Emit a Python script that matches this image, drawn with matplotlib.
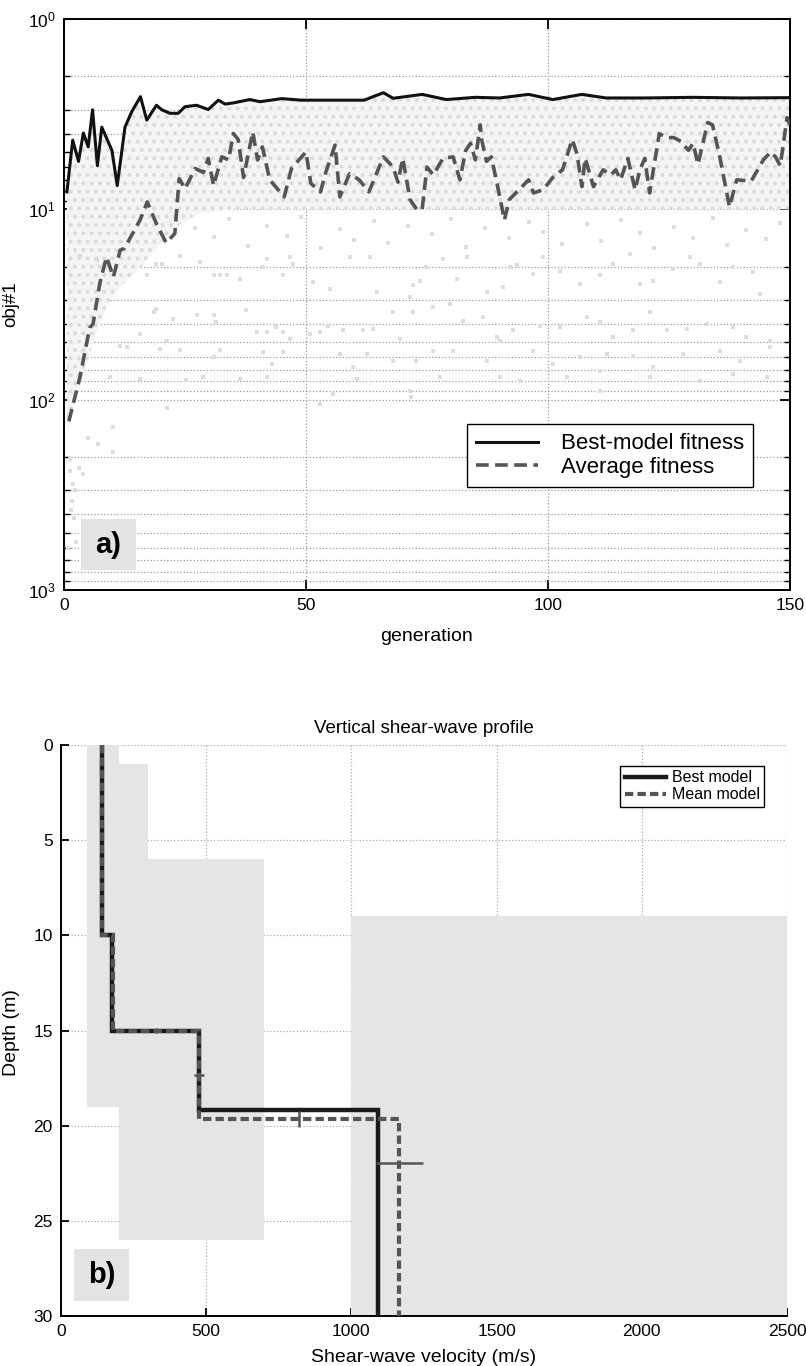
import numpy as np
import matplotlib
matplotlib.use('Agg')
import matplotlib.pyplot as plt
from matplotlib.patches import Rectangle

plt.rcParams['font.family'] = ['Liberation Sans', 'DejaVu Sans']
plt.rcParams['mathtext.fontset'] = 'custom'
plt.rcParams['mathtext.rm'] = 'Liberation Sans'
plt.rcParams['mathtext.it'] = 'Liberation Sans:italic'
plt.rcParams['hatch.linewidth'] = 1.6

# ---- panel a) : fitness vs generation ----
best_gen = [0.6, 1.8, 3.0, 4.0, 5.0, 5.9, 6.9, 7.8, 9.9, 11.0, 12.6, 14.0, 15.8, 17.1,
            19.1, 20.2, 21.9, 23.6, 25, 27.4, 29.8, 31.9, 33.3, 35, 38.4, 40.5, 45, 49,
            55, 62, 66, 68, 74, 79, 85, 90, 96, 101, 107, 112, 120, 130, 140, 150]
best_fit = [8.1, 4.33, 5.6, 3.97, 4.7, 3.0, 5.9, 3.7, 4.9, 7.5, 3.7, 3.07, 2.56, 3.4,
            2.84, 3.0, 3.13, 3.13, 2.89, 2.84, 2.99, 2.67, 2.8, 2.76, 2.65, 2.72, 2.62, 2.67,
            2.67, 2.67, 2.44, 2.61, 2.49, 2.65, 2.58, 2.6, 2.49, 2.65, 2.49, 2.6, 2.6, 2.58, 2.6, 2.59]

avg_gen = [1, 3.3, 5.3, 6, 7.4, 7.8, 8.8, 10.2, 11.6, 12.5, 15.7, 17.2, 19.1, 21.1, 22.9,
           23.8, 25, 27.1, 28.8, 29.8, 30.9, 32.6, 34, 35, 36, 37.1, 39, 40, 41, 42.5,
           45.5, 47, 48, 50, 51, 53, 54, 56, 57, 59, 61, 63, 66, 68, 69, 70, 71.5, 73, 74,
           75, 76.3, 78.3, 80.4, 81.8, 83, 84, 85, 86, 86.3, 87.3, 88.3, 89.7, 91, 92, 94,
           96, 97, 99, 101, 103, 105, 106, 107, 107.7, 109.4, 111.4, 113, 114, 115, 116.5,
           118, 119, 120, 121, 123, 124.5, 126, 127.5, 129, 130, 131, 133, 134, 135.5,
           137.5, 139, 142, 144.5, 146, 147, 148, 149.4, 150]
avg_fit = [130, 76, 42, 40, 24.5, 22.2, 17.8, 22.7, 16.4, 16, 11.4, 9.15, 11.9, 15.0, 13.4,
           6.9, 7.8, 6.1, 6.4, 5.4, 7.5, 5.3, 5.5, 4.0, 4.3, 6.8, 3.92, 5.5, 4.7, 7.0,
           8.6, 6.1, 5.7, 5.0, 7.3, 8.1, 6.5, 4.6, 8.6, 6.5, 7.0, 8.1, 5.3, 6.0, 7.2, 5.4, 8.9, 10.1, 10.0,
           6.0, 6.6, 5.4, 5.3, 7.0, 4.9, 4.5, 5.5, 3.6, 4.3, 5.6, 5.3, 7.8, 11.4, 8.9, 7.9,
           7.0, 8.2, 7.9, 6.8, 6.2, 4.3, 5.1, 7.6, 5.4, 7.6, 6.2, 6.6, 6.2, 7.0, 5.4,
           7.9, 6.2, 5.4, 8.2, 4.0, 4.2, 4.2, 4.4, 4.9, 4.5, 5.8, 3.5, 3.6, 5.3,
           9.7, 7.0, 7.1, 5.5, 5.0, 5.3, 5.9, 3.3, 3.6]

# lower edge of the dense population cloud
cloud_gen = [0.6, 3, 6, 9, 12, 16, 20, 24, 28, 35, 150]
cloud_low = [150, 90, 50, 32, 25, 20, 15, 12, 10.5, 10, 10]

# sparse population members below the cloud
pop_gen = [3.3, 6.8, 19.1, 17.1, 20.2, 24.0, 28.1, 30.9, 32.2, 33.6, 36.4, 41.2, 41.9, 45.3,
           46.7, 47.4, 51.5, 55.0, 59.1, 63.2, 64.6, 68.0, 72.2, 18.5, 19.1, 22.6, 27.4, 30.9,
           31.5, 37.7, 39.8, 41.9, 43.9, 45.3, 46.7, 50.8, 52.9, 54.6, 57.7, 61.8, 63.9, 69.4,
           11.6, 13.0, 15.7, 19.8, 21.2, 24.0, 30.9, 32.2, 41.2, 42.9, 45.3, 57.0, 59.8, 62.6,
           68.0, 9.5, 15.7, 25.3, 28.8, 36.4, 41.9, 52.9, 55.6, 60.5, 21.2, 10.2, 7.1, 10.2,
           1.2, 1.2, 4.0, 1.6, 1.9,
           71.5, 73.5, 74.9, 78.4, 81.1, 83.2, 87.3, 90.8, 92.1, 93.5, 97.0, 99.0, 102.5, 106.6,
           110.7, 113.5, 116.9, 119.0, 121.8, 125.9, 129.3, 131.4, 135.5, 138.3, 142.4, 143.8,
           72.2, 76.3, 79.7, 82.5, 86.6, 89.4, 92.8, 98.3, 102.5, 108.0, 110.7, 113.5, 117.6,
           121.1, 124.5, 128.7, 132.8, 138.3, 141.0, 145.9, 72.8, 76.3, 80.4, 87.3, 90.1, 97.0,
           101.1, 106.6, 112.1, 117.6, 121.8, 128.0, 135.5, 139.7, 145.9, 71.5, 77.7, 90.1,
           94.2, 103.9, 110.7, 121.1, 131.4, 138.3, 145.2, 71.8, 110.7,
           27, 31, 34, 38, 42, 46, 49, 53, 57, 60, 64, 67, 71, 76, 80, 83, 87, 92, 96, 99,
           103, 108, 111, 115, 119, 122, 126, 130, 134, 137, 141, 145, 148,
           2.0, 2.5, 1.4, 3.0, 0.8, 5.0, 2.2]
pop_fit = [17.5, 18.5, 19.3, 22.2, 19.3, 17.5, 18.9, 22.2, 22.2, 22.2, 23.2, 20.1, 18.2, 22.2,
           17.8, 19.3, 24.1, 26.2, 17.8, 17.8, 27.2, 34.7, 25.1, 34.7, 33.3, 37.6, 36.1, 36.1,
           39.2, 34.0, 44.2, 44.2, 41.6, 44.2, 48.0, 45.1, 44.2, 40.8, 43.3, 43.3, 42.5, 48.0,
           52, 53, 45, 54, 49, 55, 60, 55, 56, 65, 56, 57.5, 67.6, 57.5,
           62.3, 76, 78, 79, 76, 78, 76, 105, 93, 78, 110, 140, 170, 189,
           205, 237, 246, 340, 277,
           28.9, 23.7, 20.1, 18.2, 23.2, 17.8, 27.2, 25.6, 20.1, 19.7, 21.8, 17.8, 21.0, 24.6,
           22.2, 19.3, 17.1, 24.6, 23.7, 20.5, 17.8, 19.3, 24.1, 20.1, 21.4, 27.8,
           34.7, 32.6, 31.4, 38.4, 36.9, 47.0, 43.3, 40.8, 41.6, 36.9, 39.2, 47.0, 43.3,
           34.7, 43.3, 42.5, 40.0, 41.6, 47.0, 48.9, 62.4, 55.2, 55.2, 62.4, 48.9, 55.2,
           64.9, 59.8, 57.5, 58.7, 67.6, 57.5, 55.2, 62.4, 53.1, 89.7, 76.3, 76.3,
           79.4, 76.3, 70.3, 76.3, 79.4, 73.3, 76.3, 97, 89.7,
           12.5, 14, 11.2, 15.5, 12.3, 13.8, 11, 16, 12.7, 14.5, 11.5, 15, 12.2, 13.5, 11.3, 15.8,
           12.6, 14.2, 11.6, 13.1, 15.2, 12, 14.6, 11.4, 13.3, 15.9, 12.4, 14.1, 11.1, 15.4,
           12.9, 14.4, 11.8,
           420, 560, 380, 230, 600, 160, 300]

# ---- panel b) : shear-wave profile ----
best_vs = [140, 176, 476, 1092]
best_edges = [0, 10, 15, 19.2, 30]
mean_vs = [140, 178, 476, 1165]
mean_edges = [0, 10, 15, 19.65, 30]
# search bounds: (vs_min, vs_max, depth_top, depth_bottom)
bound_vmin = [90, 90, 200, 1000]
bound_vmax = [200, 300, 700, 2500]
bound_ztop = [0, 1, 6, 9]
bound_zbot = [19, 6, 26, 30]
# uncertainty crosses on the mean model
err_v = [476, 818, 1165, 327]
err_z = [17.35, 19.65, 21.95, 15.0]
err_sv = [17, 0, 80, 0]
err_sz = [0, 0.4, 0, 0.15]

fig = plt.figure(figsize=(8.06, 13.66), dpi=100)

# ---------------- a) ----------------
ax1 = fig.add_axes([0.0794, 0.5681, 0.9007, 0.418])
ax1.set_yscale('log')
ax1.fill(np.r_[best_gen, cloud_gen[::-1]], np.r_[best_fit, cloud_low[::-1]],
         facecolor='#f4f4f4', edgecolor='#dadada', hatch='..', linewidth=0, zorder=1)
ax1.scatter(pop_gen, pop_fit, s=6, marker='s', color='#dddddd', linewidths=0, zorder=1)
ax1.plot(best_gen, best_fit, color='#111111', lw=2.2, label='Best-model fitness', zorder=3)
ax1.plot(avg_gen, avg_fit, color='#555555', lw=2.6, ls=(0, (3.5, 1.8)),
         label='Average fitness', zorder=3)
ax1.set_xlim(0, 150)
ax1.set_ylim(1000, 1)
ax1.set_xticks([0, 50, 100, 150])
ax1.grid(True, which='major', ls=':', color='#999999', lw=0.9)
ax1.grid(True, which='minor', axis='y', ls=':', color='#999999', lw=0.9)
ax1.set_axisbelow(True)
ax1.tick_params(which='both', direction='in', top=True, right=True, labelsize=12.5, pad=6)
ax1.tick_params(which='major', length=7, width=1.3)
ax1.tick_params(which='minor', length=4, width=1.0)
for s in ax1.spines.values():
    s.set_linewidth(1.4)
ax1.set_xlabel('generation', fontsize=14)
ax1.set_ylabel('obj#1', fontsize=13.5)
ax1.xaxis.set_label_coords(0.5, -0.067)
ax1.yaxis.set_label_coords(-0.061, 0.5)
leg1 = ax1.legend(loc='lower right', bbox_to_anchor=(0.964, 0.161), fontsize=16,
                  handlelength=2.8, handletextpad=1.0, fancybox=False, framealpha=1,
                  edgecolor='black', borderpad=0.4, labelspacing=0.12)
leg1.get_frame().set_linewidth(1.0)
ax1.add_patch(Rectangle((0.023, 0.035), 0.076, 0.089, transform=ax1.transAxes,
                        facecolor='#e3e3e3', edgecolor='none', zorder=4))
ax1.text(0.061, 0.079, 'a)', transform=ax1.transAxes, fontsize=21, fontweight='bold',
         ha='center', va='center', zorder=5)

# ---------------- b) ----------------
ax2 = fig.add_axes([0.0757, 0.0366, 0.9007, 0.418])
for v0, v1, z0, z1 in zip(bound_vmin, bound_vmax, bound_ztop, bound_zbot):
    ax2.add_patch(Rectangle((v0, z0), v1 - v0, z1 - z0, facecolor='#e5e5e5',
                            edgecolor='none', zorder=1))
ax2.stairs(best_vs, best_edges, orientation='horizontal', baseline=None,
           color='#1a1a1a', lw=3.2, label='Best model', zorder=3)
ax2.stairs(mean_vs, mean_edges, orientation='horizontal', baseline=None,
           color='#555555', lw=3, ls=(0, (2, 1)), label='Mean model', zorder=4)
ax2.errorbar(err_v, err_z, xerr=err_sv, yerr=err_sz, fmt='none', ecolor='#555555',
             elinewidth=1.8, capsize=0, zorder=5)
ax2.set_xlim(0, 2500)
ax2.set_ylim(30, 0)
ax2.set_xticks([0, 500, 1000, 1500, 2000, 2500])
ax2.set_yticks([0, 5, 10, 15, 20, 25, 30])
ax2.grid(True, ls=':', color='#aaaaaa', lw=0.9, zorder=0)
ax2.set_axisbelow(True)
ax2.spines['top'].set_visible(False)
ax2.spines['right'].set_visible(False)
for s in ax2.spines.values():
    s.set_linewidth(1.4)
ax2.tick_params(direction='in', length=6, width=1.3, labelsize=12.5, pad=6)
ax2.set_title('Vertical shear-wave profile', fontsize=13.5, pad=9)
ax2.set_xlabel('Shear-wave velocity (m/s)', fontsize=14)
ax2.set_ylabel('Depth (m)', fontsize=14)
ax2.xaxis.set_label_coords(0.5, -0.057)
ax2.yaxis.set_label_coords(-0.056, 0.497)
leg2 = ax2.legend(loc='upper right', bbox_to_anchor=(0.98, 0.978), fontsize=11.5,
                  handlelength=2.6, fancybox=False, framealpha=1, edgecolor='black',
                  borderpad=0.3, labelspacing=0.12, handletextpad=0.35)
leg2.get_frame().set_linewidth(1.0)
ax2.add_patch(Rectangle((0.018, 0.026), 0.076, 0.091, transform=ax2.transAxes,
                        facecolor='#e3e3e3', edgecolor='none', zorder=6))
ax2.text(0.056, 0.072, 'b)', transform=ax2.transAxes, fontsize=21, fontweight='bold',
         ha='center', va='center', zorder=7)

fig.savefig('out.png', dpi=100)
